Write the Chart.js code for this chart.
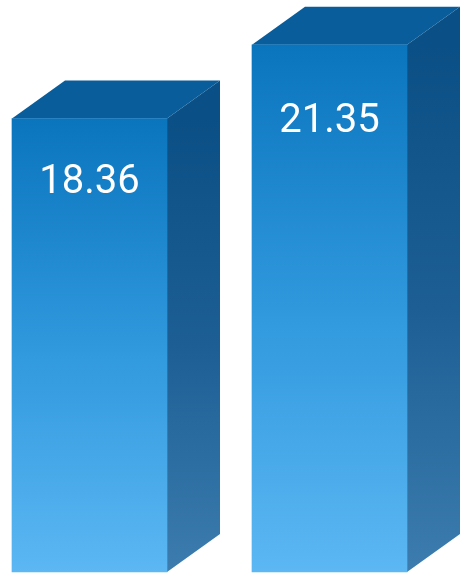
<!DOCTYPE html>
<html>
<head>
<meta charset="utf-8">
<script src="https://cdn.jsdelivr.net/npm/chart.js@4.4.0/dist/chart.umd.min.js"></script>
<style>
html,body{margin:0;padding:0;background:#fff;}
canvas{display:block;}
</style>
</head>
<body>
<canvas id="c" width="460" height="575"></canvas>
<script>
const categories = ['A', 'B'];
const values = [18.36, 21.35];
const valueLabels = ['18.36', '21.35'];

const DEPTH_X = 53, DEPTH_Y = 38;

function frontGradient(c) {
  const chart = c.chart;
  const ys = chart.scales.y;
  if (!ys || !chart.chartArea) return '#2f98dd';
  const t = ys.getPixelForValue(c.raw);
  const b = ys.getPixelForValue(0);
  if (!isFinite(t) || !isFinite(b)) return '#2f98dd';
  const g = chart.ctx.createLinearGradient(0, t, 0, b);
  g.addColorStop(0, '#0a74bd');
  g.addColorStop(0.5, '#2f98dd');
  g.addColorStop(1, '#5cb7f3');
  return g;
}

const bar3d = {
  id: 'bar3d',
  beforeDatasetsDraw(chart) {
    const ctx = chart.ctx;
    chart.getDatasetMeta(0).data.forEach(el => {
      const l = el.x - el.width / 2, r = el.x + el.width / 2;
      const t = el.y, b = el.base;
      const sg = ctx.createLinearGradient(0, t, 0, b);
      sg.addColorStop(0, '#0a4f85');
      sg.addColorStop(0.5, '#1d5f95');
      sg.addColorStop(1, '#3c7cae');
      ctx.save();
      ctx.beginPath();
      ctx.moveTo(r, t);
      ctx.lineTo(r + DEPTH_X, t - DEPTH_Y);
      ctx.lineTo(r + DEPTH_X, b - DEPTH_Y);
      ctx.lineTo(r, b);
      ctx.closePath();
      ctx.fillStyle = sg;
      ctx.fill();
      ctx.beginPath();
      ctx.moveTo(l, t);
      ctx.lineTo(l + DEPTH_X, t - DEPTH_Y);
      ctx.lineTo(r + DEPTH_X, t - DEPTH_Y);
      ctx.lineTo(r, t);
      ctx.closePath();
      ctx.fillStyle = '#0a5d9b';
      ctx.fill();
      ctx.restore();
    });
  },
  afterDatasetsDraw(chart) {
    const ctx = chart.ctx;
    ctx.save();
    ctx.fillStyle = '#ffffff';
    ctx.font = '40px Roboto';
    ctx.textAlign = 'center';
    ctx.textBaseline = 'alphabetic';
    chart.getDatasetMeta(0).data.forEach((el, i) => {
      const y = el.y + (el.base - el.y) * 0.165;
      ctx.fillText(valueLabels[i], el.x, y);
    });
    ctx.restore();
  }
};

new Chart(document.getElementById('c'), {
  type: 'bar',
  data: {
    labels: categories,
    datasets: [{
      data: values,
      backgroundColor: frontGradient,
      borderWidth: 0,
      barThickness: 155,
      clip: false
    }]
  },
  options: {
    responsive: false,
    animation: false,
    devicePixelRatio: 1,
    layout: { padding: { left: 89.5, right: 130.5, top: 4, bottom: 3 } },
    plugins: { legend: { display: false }, tooltip: { enabled: false } },
    scales: {
      x: { display: false, offset: false, grid: { display: false } },
      y: { display: false, min: 0, max: 23, grid: { display: false } }
    }
  },
  plugins: [bar3d]
});
</script>
</body>
</html>
